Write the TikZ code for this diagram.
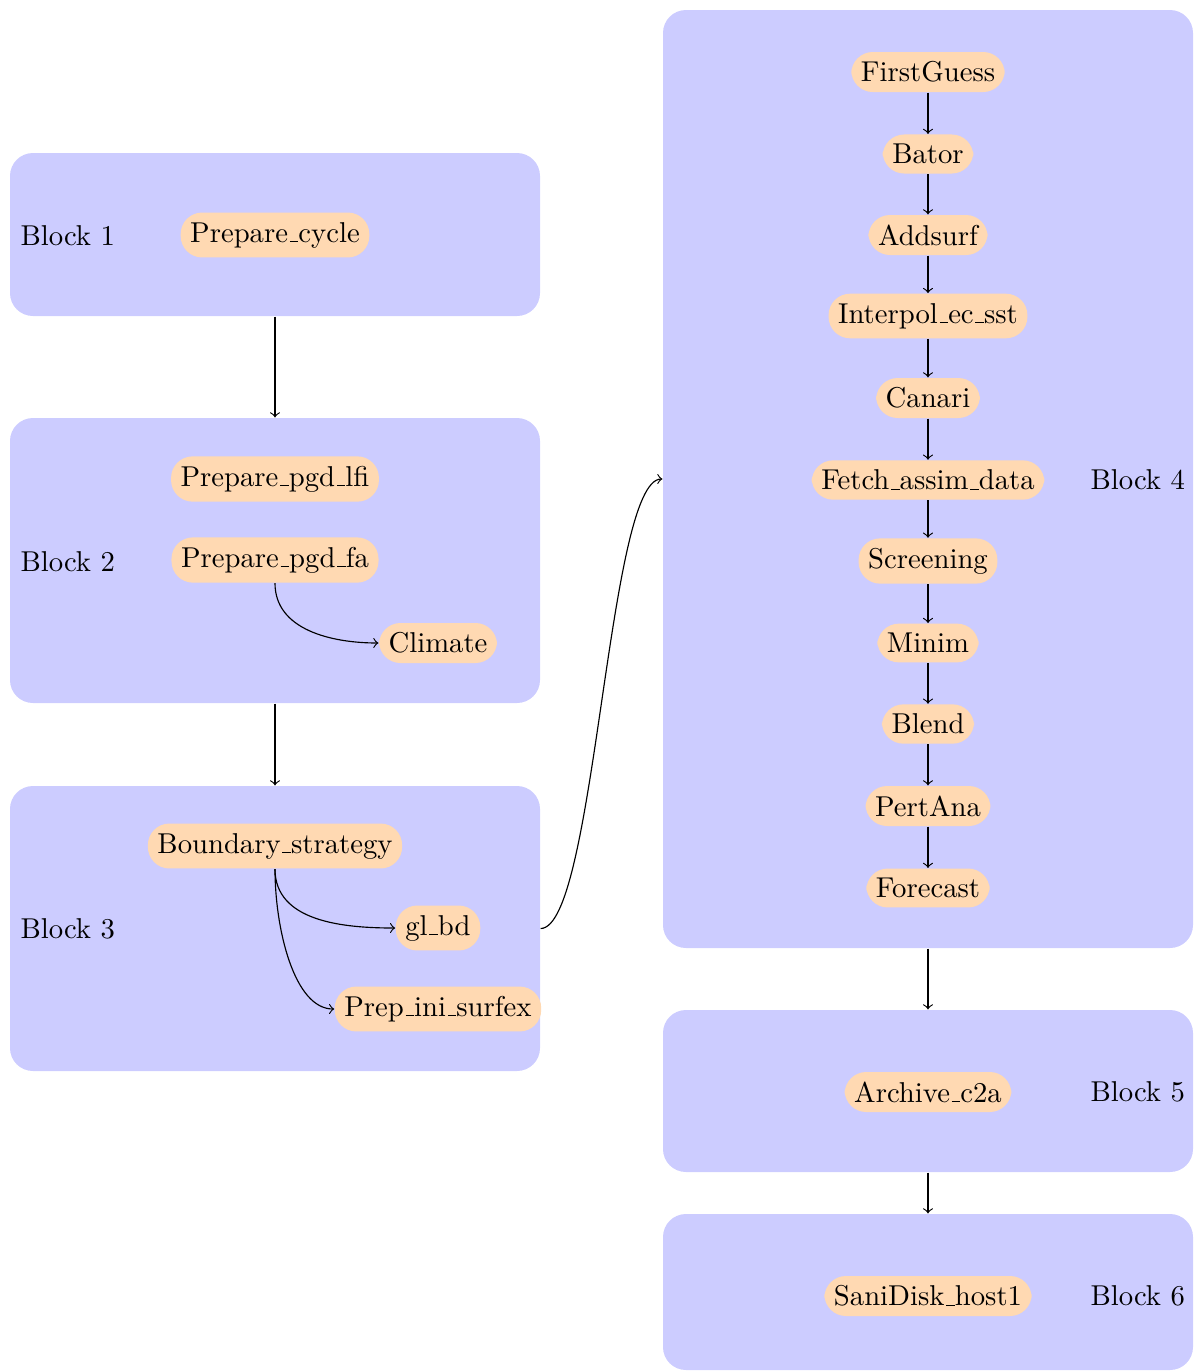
\documentclass[tikz,border=0pt]{standalone}
\usetikzlibrary{fit,arrows}
\newcommand{\us}{\leavevmode\kern.06em\vbox{\hrule width.3em}}
\begin{document}
\begin{tikzpicture}[x=0.34843pt,y=-0.34843pt,
  block/.style={fill=blue!20,draw=none,rounded corners=8pt,inner sep=0pt},
  task/.style={rectangle,rounded corners=7.5pt,fill=orange!30,draw=none},
  blabel/.style={anchor=west,inner sep=0pt},
  conn/.style={->}]
\useasboundingbox (0,0) rectangle (1201,1372);
% blocks
\node[block,fit={(10,153) (540,316)}] (b1) {};
\node[block,fit={(10,418) (540,703)}] (b2) {};
\node[block,fit={(10,786) (540,1071)}] (b3) {};
\node[block,fit={(663,10) (1193,948)}] (b4) {};
\node[block,fit={(663,1010) (1193,1172)}] (b5) {};
\node[block,fit={(663,1214) (1193,1370)}] (b6) {};
% labels
\node[blabel] (l1) at (20,236) {Block 1};
\node[blabel] (l2) at (20,562) {Block 2};
\node[blabel] (l3) at (20,929) {Block 3};
\node[blabel] (l4) at (1090,480) {Block 4};
\node[blabel] (l5) at (1090,1092) {Block 5};
\node[blabel] (l6) at (1090,1296) {Block 6};
% block 1
\node[task] (pc) at (275,235) {Prepare\us cycle};
% block 2
\node[task] (lfi) at (275,479) {Prepare\us pgd\us lfi};
\node[task] (pfa) at (275,560) {Prepare\us pgd\us fa};
\node[task] (cli) at (438,643) {Climate};
% block 3
\node[task] (bs) at (275,846) {Boundary\us strategy};
\node[task] (gl) at (438,928) {gl\us bd};
\node[task] (pis) at (438,1009) {Prep\us ini\us surfex};
% block 4
\node[task] (fg) at (928,72) {FirstGuess};
\node[task] (ba) at (928,154) {Bator};
\node[task] (ad) at (928,235) {Addsurf};
\node[task] (ie) at (928,316) {Interpol\us ec\us sst};
\node[task] (ca) at (928,398) {Canari};
\node[task] (fa) at (928,480) {Fetch\us assim\us data};
\node[task] (sc) at (928,561) {Screening};
\node[task] (mi) at (928,643) {Minim};
\node[task] (bl) at (928,724) {Blend};
\node[task] (pa) at (928,806) {PertAna};
\node[task] (fc) at (928,888) {Forecast};
% block 5 and 6
\node[task] (ar) at (928,1092) {Archive\us c2a};
\node[task] (sd) at (928,1296) {SaniDisk\us host1};
% connectors
\draw[conn] (b1.south) -- (b2.north);
\draw[conn] (b2.south) -- (b3.north);
\draw[conn] (b4.south) -- (b5.north);
\draw[conn] (b5.south) -- (b6.north);
\draw[conn] (b3.east) .. controls +(55,0) and +(-55,0) .. (b4.west);
\draw[conn] (pfa.south) to[out=-90,in=180] (cli.west);
\draw[conn] (bs.south) to[out=-90,in=180] (gl.west);
\draw[conn] (bs.south) .. controls +(0,60) and +(-40,0) .. (pis.west);
\draw[conn] (fg) -- (ba);
\draw[conn] (ba) -- (ad);
\draw[conn] (ad) -- (ie);
\draw[conn] (ie) -- (ca);
\draw[conn] (ca) -- (fa);
\draw[conn] (fa) -- (sc);
\draw[conn] (sc) -- (mi);
\draw[conn] (mi) -- (bl);
\draw[conn] (bl) -- (pa);
\draw[conn] (pa) -- (fc);
\end{tikzpicture}
\end{document}
